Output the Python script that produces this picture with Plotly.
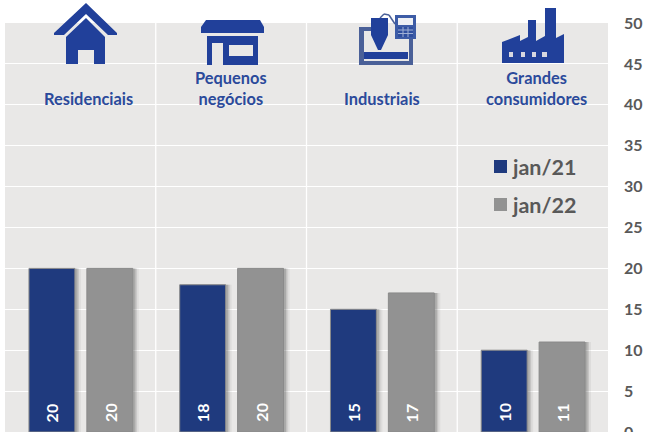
import plotly.graph_objects as go

categories = ["Residenciais", "Pequenos negócios", "Industriais", "Grandes consumidores"]
jan21 = [20, 18, 15, 10]
jan22 = [20, 20, 17, 11]
y_ticks = [0, 5, 10, 15, 20, 25, 30, 35, 40, 45, 50]
series_names = ["jan/21", "jan/22"]
cat_labels = ["Residenciais", "Pequenos<br>negócios", "Industriais", "Grandes<br>consumidores"]

W, H = 652, 446
L, R, T, B = 5, 608, 23, 432
NAVY, GREY, ICON, LABEL, TXT = "#1f3a7e", "#929292", "#21409a", "#2b4a9b", "#595959"
FRAME = "#4a6098"
FONT = "Lato"
BG = "#e9e8e7"

def X(px): return (px - L) / (R - L)
def Y(py): return (B - py) / (B - T)

def poly(pts):
    return " ".join(("M" if i == 0 else "L") + f"{X(p[0]):.5f},{Y(p[1]):.5f}" for i, p in enumerate(pts)) + " Z"

def icon(pts, color=ICON):
    return dict(type="path", xref="paper", yref="paper", path=poly(pts),
                fillcolor=color, line=dict(width=0), layer="above")

def rect(x0, y0, x1, y1, color=ICON):
    return icon([(x0, y0), (x1, y0), (x1, y1), (x0, y1)], color)

def seg(x0, y0, x1, y1, color, width=1):
    return dict(type="line", xref="paper", yref="paper", x0=X(x0), y0=Y(y0), x1=X(x1), y1=Y(y1),
                line=dict(color=color, width=width), layer="above")

shapes = []
# house
shapes += [
    icon([(86, 3), (117, 33), (117, 35), (108, 35), (86, 14), (64, 35), (54, 35), (54, 33)]),
    icon([(86, 18), (105, 37), (105, 64), (94, 64), (94, 50), (78, 50), (78, 64), (66, 64), (66, 37)]),
]
# shop
shapes += [
    icon([(206, 20), (260, 20), (264, 27), (264, 33), (201, 33), (201, 27)]),
    rect(207, 36, 258, 65),
    rect(212, 43, 223, 65, BG),
    rect(229, 45, 253, 56, BG),
]
# CNC machine
shapes += [
    rect(359, 27, 364, 65, FRAME),
    rect(359, 27, 372, 31, FRAME),
    rect(359, 61, 413, 65, FRAME),
    rect(409, 39, 413, 65, FRAME),
    rect(364, 52, 408, 59),
    rect(371, 18, 388, 35),
    icon([(371, 35), (388, 35), (381, 50), (378, 50)]),
    seg(380, 18, 384, 14, FRAME, 1.5),
    seg(384, 14, 389, 15, FRAME, 1.5),
    seg(389, 15, 395, 24, FRAME, 1.5),
    rect(395, 15, 416, 39, "#3d5ca6"),
    rect(398, 18, 413, 25, "#eef0f4"),
    rect(398, 27, 413, 37, "#2f4f9f"),
    seg(398, 30, 413, 30, "#9fb0d4"),
    seg(398, 33.5, 413, 33.5, "#9fb0d4"),
    seg(403, 27, 403, 37, "#9fb0d4"),
    seg(408, 27, 408, 37, "#9fb0d4"),
]
# factory
shapes += [
    icon([(502, 42), (520, 35), (520, 41), (528, 37), (528, 20), (536, 20), (536, 41),
          (545, 36), (545, 8), (556, 8), (556, 38), (564, 34), (564, 63), (502, 63)]),
    rect(509, 52, 513, 57, "#d8d8e0"),
    rect(521, 52, 525, 57, "#d8d8e0"),
    rect(532, 52, 536, 57, "#d8d8e0"),
    rect(542, 52, 547, 57, "#d8d8e0"),
]
# legend swatches
shapes += [rect(494, 160, 507, 173, NAVY), rect(494, 198, 507, 211, GREY)]

fig = go.Figure()
bw = 46 / 151
offs = [-51.5 / 151, 6.5 / 151]
for off, vals in zip(offs, [jan21, jan22]):
    for shift, alpha in [(6, 0.08), (4, 0.18), (2.5, 0.25)]:
        fig.add_trace(go.Bar(x=categories, y=vals, width=bw, offset=off + shift / 151,
                             marker=dict(color=f"rgba(90,90,90,{alpha})", line=dict(width=0)),
                             hoverinfo="skip", showlegend=False))
for off, vals, color, name in zip(offs, [jan21, jan22], [NAVY, GREY], series_names):
    fig.add_trace(go.Bar(x=categories, y=vals, width=bw, offset=off, name=name,
                         marker=dict(color=color, line=dict(color="#8a8a8a", width=1)),
                         showlegend=False))

annotations = []
label_y = [99, 88, 99, 88]
label_dx = [8, 0, 0, 4]
for i, lab in enumerate(cat_labels):
    annotations.append(dict(xref="x", yref="paper", x=categories[i], y=Y(label_y[i]), xshift=label_dx[i],
                            text=f"<b>{lab}</b>", showarrow=False, xanchor="center", yanchor="middle",
                            font=dict(family=FONT, size=16.4, color=LABEL), align="center"))
for name, yy in zip(series_names, [167, 205]):
    annotations.append(dict(xref="paper", yref="paper", x=X(510), y=Y(yy), text=f"<b>{name}</b>",
                            showarrow=False, xanchor="left", yanchor="middle",
                            font=dict(family=FONT, size=21.5, color=TXT)))
for vals, dx in zip([jan21, jan22], [-28.5, 30]):
    for c, v in zip(categories, vals):
        annotations.append(dict(xref="x", yref="y", x=c, y=0, xshift=dx, yshift=8, text=f"<b>{v}</b>",
                                showarrow=False, textangle=-90, xanchor="center", yanchor="bottom",
                                font=dict(family=FONT, size=16, color="white")))

fig.update_layout(
    width=W, height=H, margin=dict(l=L, r=W - R, t=T, b=H - B, pad=0),
    paper_bgcolor="white", plot_bgcolor=BG, barmode="overlay", showlegend=False,
    shapes=shapes, annotations=annotations,
    xaxis=dict(type="category", categoryorder="array", categoryarray=categories,
               showticklabels=False, showgrid=False, ticks="", zeroline=False, showline=False,
               range=[-0.5, 3.5]),
    yaxis=dict(range=[0, 50], tickvals=y_ticks, side="right", showgrid=True, gridcolor="white",
               gridwidth=1.3, zeroline=False, showline=False, ticks="",
               ticklabelstandoff=15,
               tickfont=dict(family=FONT, size=16, color=TXT, weight="bold")),
)
for i in range(1, 4):
    fig.add_vline(x=i - 0.5, line=dict(color="white", width=1.3), layer="below")

fig.write_html("out.html", config={"displayModeBar": False},
               post_script="document.body.style.margin='0';document.body.style.overflow='hidden';document.documentElement.style.overflow='hidden';")
